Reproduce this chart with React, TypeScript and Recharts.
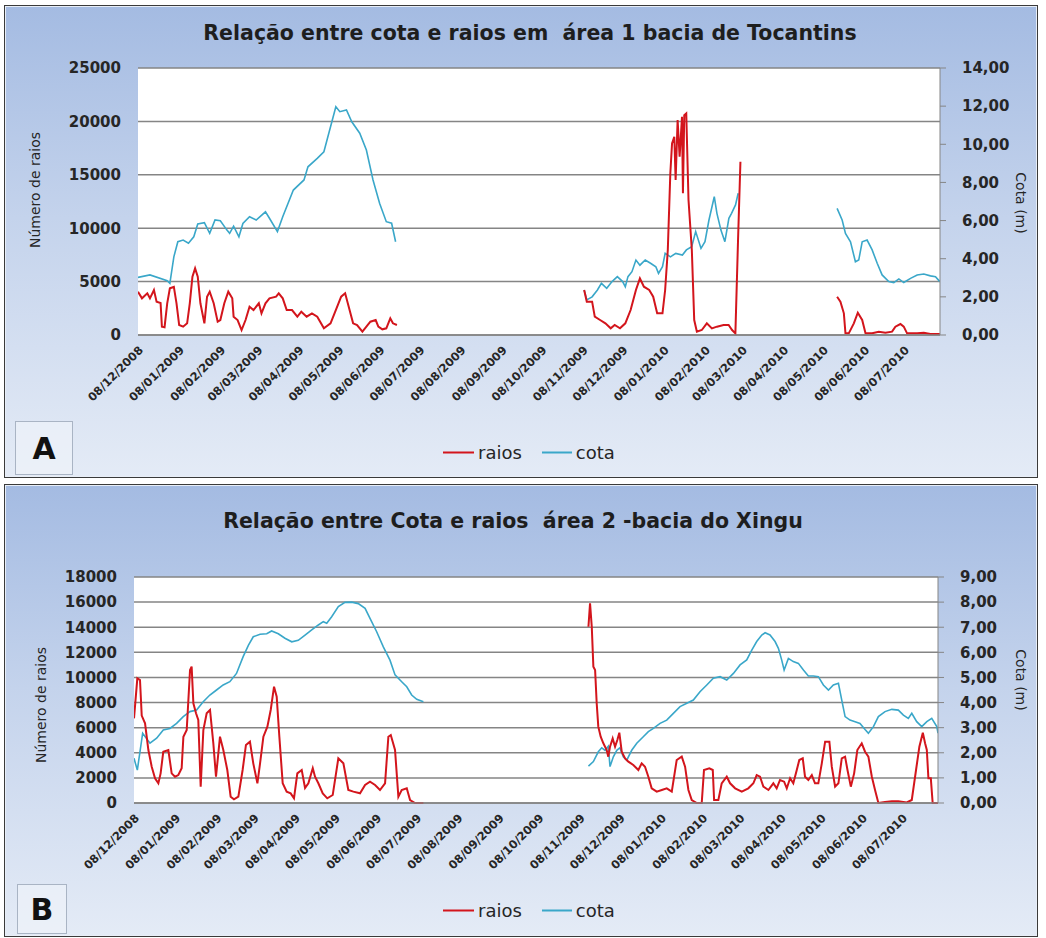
import { LineChart, Line, XAxis, YAxis, CartesianGrid } from 'recharts';

// rótulos mensais do eixo x (dias contados a partir de 08/12/2008)
const rotulosMeses = [
  '08/12/2008', '08/01/2009', '08/02/2009', '08/03/2009', '08/04/2009', '08/05/2009',
  '08/06/2009', '08/07/2009', '08/08/2009', '08/09/2009', '08/10/2009', '08/11/2009',
  '08/12/2009', '08/01/2010', '08/02/2010', '08/03/2010', '08/04/2010', '08/05/2010',
  '08/06/2010', '08/07/2010',
];
const ultimoDia = 604;

// área 1 - Tocantins
const ticksRaiosA = [0, 5000, 10000, 15000, 20000, 25000];
const ticksCotaA = [0, 2, 4, 6, 8, 10, 12, 14];

const diasRaiosA = [
  0, 3, 7, 9, 12, 14, 17, 18, 20, 22, 24, 27, 29, 31, 34, 37, 39, 41, 43, 45, 47, 50, 52, 54, 57, 60,
  62, 65, 68, 71, 72, 75, 78, 81, 84, 87, 91, 93, 96, 99, 104, 106, 109, 112, 116, 120, 123, 127, 131,
  135, 140, 145, 148, 153, 156, 158, 162, 165, 169, 172, 175, 179, 181, 184, 187, 190, 192, 195,
  200,
  336, 338, 342, 344, 348, 352, 356, 359, 363, 367, 371, 375, 378, 381, 385, 388, 391, 395, 397, 399,
  400.9, 402.2, 403.9, 404.9, 406.4, 407.9, 409.7, 410.4, 411.4, 412.9, 414.6, 417.1, 418.9, 420.9,
  424.6, 428.4, 432.2, 436, 441, 444.8, 447.4, 449.9, 451.9, 453.7,
  460,
  526.5, 529, 531.6, 532.8, 535.3, 539.1, 542.1, 545.4, 547.9, 552.9, 557.9, 562.9, 567.9, 570.4,
  574.2, 576.7, 579.2, 586.8, 591.8, 596.8, 603.9,
];
const raiosA = [
  4053, 3435, 3900, 3435, 4212, 3117, 3000, 780, 730, 2970, 4371, 4500, 2970, 936, 780, 1092, 2970,
  5460, 6240, 5460, 2970, 1092, 3588, 4053, 2970, 1248, 1404, 2970, 4053, 3432, 1716, 1404, 468, 1404,
  2652, 2340, 2970, 2028, 2970, 3432, 3588, 3900, 3432, 2340, 2340, 1716, 2184, 1716, 2028, 1716, 624,
  1092, 2028, 3588, 3900, 2970, 1092, 936, 312, 780, 1248, 1404, 780, 530, 624, 1560, 1092, 936,
  null,
  4212, 3120, 3120, 1716, 1404, 1092, 624, 936, 624, 1092, 2340, 4212, 5304, 4524, 4212, 3588, 2028,
  2028, 4212, 7956, 15135, 17943, 18566, 14508, 20124, 16689, 20433, 13263, 20590, 20748, 12636, 7956,
  1404, 312, 468, 1092, 624, 780, 936, 936, 468, 156, 8892, 16221,
  null,
  3588, 3120, 2028, 156, 156, 1092, 2090, 1404, 156, 156, 312, 218, 312, 780, 1030, 780, 156, 156, 218,
  100, 100,
];

const diasCotaA = [
  0, 9, 22, 24, 27, 30, 34, 38, 42, 45, 50, 54, 58, 62, 67, 69, 72, 76, 79, 84, 89, 96, 99, 105, 109,
  117, 125, 128, 135, 140, 145, 149, 152, 157, 161, 167, 172, 177, 182, 187, 191, 194,
  200,
  336, 338, 342, 346, 349, 353, 357, 361, 365, 367, 369, 372, 375, 378, 382, 386, 390, 392, 395, 397,
  401, 405, 410, 413, 417, 420, 424, 427, 430, 434, 436, 439, 442, 445, 447, 450, 452,
  460,
  526.5, 530.3, 532.8, 536.6, 540.3, 542.8, 545.4, 549.1, 552.9, 556.7, 560.4, 565.4, 569.2, 573,
  576.7, 581.8, 586.8, 591.8, 596.8, 600.6, 603.9,
];
const cotaA = [
  3.02, 3.15, 2.85, 2.71, 4.1, 4.89, 4.98, 4.81, 5.15, 5.82, 5.89, 5.33, 6.03, 5.99, 5.5, 5.33, 5.71,
  5.15, 5.85, 6.2, 6.03, 6.46, 6.12, 5.42, 6.2, 7.6, 8.13, 8.82, 9.26, 9.61, 10.92, 11.97, 11.71, 11.8,
  11.18, 10.58, 9.7, 8.13, 6.9, 5.94, 5.86, 4.89,
  null,
  2.36, 1.84, 2.0, 2.36, 2.71, 2.45, 2.8, 3.06, 2.8, 2.53, 3.06, 3.32, 3.93, 3.66, 3.93, 3.76, 3.58,
  3.23, 3.58, 4.28, 4.1, 4.28, 4.19, 4.46, 4.63, 5.42, 4.54, 4.89, 6.03, 7.25, 6.38, 5.5, 4.89, 6.12,
  6.38, 6.82, 7.43,
  null,
  6.64, 6.03, 5.33, 4.89, 3.84, 3.93, 4.89, 4.98, 4.46, 3.76, 3.15, 2.8, 2.75, 2.94, 2.75, 2.97, 3.15,
  3.2, 3.1, 3.06, 2.8,
];

// área 2 - Xingu
const ticksRaiosB = [0, 2000, 4000, 6000, 8000, 10000, 12000, 14000, 16000, 18000];
const ticksCotaB = [0, 1, 2, 3, 4, 5, 6, 7, 8, 9];

const diasRaiosB = [
  0, 2.5, 4.5, 5.8, 8.3, 10.8, 13.3, 15.8, 18.3, 20, 22, 25.8, 28.3, 30.8, 33.3, 35.8, 37.1, 39.6, 42.1,
  43.3, 44.6, 46.6, 48.3, 50.1, 52.1, 54.6, 57.1, 59.6, 61.6, 64.6, 67.1, 70.1, 72.6, 75.1, 78.4, 81.6,
  84.1, 87.1, 89.6, 92.7, 94.7, 97.2, 100.2, 102.7, 105.2, 107.2, 109.2, 111.7, 114.7, 117.7, 120.2,
  122.7, 126, 128.5, 131, 134.3, 136, 138.5, 141.8, 145.2, 149.3, 153.5, 157.3, 161, 164.8, 169.8,
  173.6, 177.3, 181.1, 184.8, 188.6, 191.1, 192.9, 196.1, 198.6, 201.1, 204.9, 207.4, 211.1, 217.4,
  225,
  341.4, 342.6, 343.9, 345.1, 346.4, 347.6, 348.8, 350.6, 352.6, 355.1, 356.3, 357.6, 359.6, 361.4,
  363.1, 364.6, 366.4, 368.9, 371.4, 375.1, 378.9, 381.4, 383.9, 386.4, 388.9, 392.7, 396.5, 400.2,
  404, 407.7, 411.5, 414, 416.5, 419, 422.8, 426.5, 428.2, 432.2, 434.8, 435.8, 439, 441.5, 445.3,
  447.8, 451.6, 456.6, 461.5, 465.3, 467.8, 470.3, 472.8, 476.6, 480.3, 482.8, 485.3, 488.4, 490.4,
  492.9, 495.3, 497.9, 499.8, 502.4, 504.1, 506.6, 509.2, 511.6, 514.1, 516.7, 519.2, 522.4, 524.2,
  526.7, 529.2, 531.7, 534.2, 536, 538.5, 541, 543.4, 546.7, 549.2, 551.7, 554.3, 556.7, 559.2, 564.2,
  569.3, 574.2, 580.5, 584.3, 587.5, 590, 592.6, 594.3, 595.6, 596.8, 598.6, 600, 604,
];
const raiosB = [
  6746, 9930, 9800, 6960, 6348, 4221, 2891, 1967, 1569, 2360, 4086, 4221, 2360, 2095, 2227, 2764, 5281,
  5812, 10593, 10860, 7941, 7145, 6614, 1300, 5812, 7145, 7407, 4755, 2095, 5281, 4221, 2628, 504, 292,
  504, 2628, 4620, 4886, 3159, 1569, 3159, 5281, 6081, 7407, 9265, 8469, 5281, 1569, 903, 770, 372,
  2360, 2628, 1200, 1569, 2764, 2095, 1569, 770, 372, 637, 3557, 3159, 1035, 903, 770, 1436, 1700,
  1436, 1035, 1569, 5281, 5414, 4221, 504, 1035, 1169, 239, 0, 0,
  null,
  14042, 15906, 14042, 10856, 10590, 7941, 6081, 5281, 4755, 4221, 3690, 4486, 5148, 4486, 5015, 5600,
  4086, 3557, 3292, 3026, 2628, 3159, 2893, 2095, 1169, 903, 1035, 1169, 903, 3425, 3690, 2893, 1035,
  239, 0, 0, 2628, 2760, 2628, 239, 239, 1569, 2095, 1569, 1169, 903, 1169, 1569, 2227, 2095, 1300,
  1035, 1569, 1169, 1832, 1700, 1169, 1967, 1569, 2628, 3425, 3557, 2095, 1832, 2227, 1569, 1569, 3159,
  4886, 4886, 2893, 1300, 1569, 3557, 3690, 2628, 1300, 2360, 4221, 4755, 4086, 3690, 2095, 1035, 0,
  80, 130, 130, 50, 239, 2628, 4486, 5600, 4755, 4221, 1967, 1967, 0, 0,
];

const diasCotaB = [
  0, 2.5, 6.5, 12, 17, 22, 27, 32, 37, 42, 47, 52, 57, 62, 67, 72, 77, 82, 86, 89.6, 94.7, 99.7, 103.4,
  108.4, 113.4, 118.5, 123.4, 128.5, 133.5, 138.5, 142.2, 144.8, 148.5, 153.5, 158.5, 163.6, 168.5,
  173.6, 177.3, 182.3, 187.3, 192.3, 196.1, 201.1, 204.9, 208.6, 212.4, 217.4,
  225,
  341.4, 345.1, 348.8, 351.4, 353.9, 356.3, 357.6, 360.1, 362.7, 365, 367.6, 370.2, 373.9, 377.7,
  382.6, 386.4, 390.2, 395.2, 400.2, 405.2, 410.2, 415.3, 420.2, 425.2, 430.3, 435.2, 440.3, 445.3,
  450.3, 455.3, 460.3, 464.1, 467.8, 471.6, 474.1, 477.8, 481.6, 484.1, 486.6, 488.4, 491.6, 495.3,
  499.1, 502.9, 506.6, 510.4, 514.1, 517.9, 521.7, 525.4, 529.2, 531.7, 534.2, 537.9, 541.7, 545.4,
  549.2, 551.7, 555.5, 559.2, 564.2, 569.3, 574.2, 578, 581.7, 584.3, 588, 591.8, 595.6, 599.3, 603.1,
  604,
];
const cotaB = [
  1.78, 1.31, 2.78, 2.38, 2.58, 2.91, 2.97, 3.17, 3.44, 3.64, 3.7, 4.03, 4.3, 4.5, 4.7, 4.83, 5.16, 5.83,
  6.29, 6.62, 6.72, 6.74, 6.85, 6.74, 6.56, 6.42, 6.48, 6.69, 6.89, 7.09, 7.22, 7.16, 7.42, 7.82, 7.99,
  8.0, 7.94, 7.75, 7.35, 6.82, 6.22, 5.69, 5.1, 4.83, 4.63, 4.3, 4.13, 4.03,
  null,
  1.47, 1.65, 2.04, 2.2, 2.1, 2.26, 1.45, 1.84, 2.1, 2.2, 1.84, 1.71, 2.1, 2.38, 2.64, 2.84, 2.97, 3.17,
  3.3, 3.57, 3.84, 3.97, 4.1, 4.43, 4.7, 4.97, 5.03, 4.9, 5.16, 5.5, 5.7, 6.09, 6.43, 6.69, 6.78, 6.69,
  6.43, 6.16, 5.69, 5.3, 5.76, 5.63, 5.56, 5.3, 5.06, 5.06, 5.03, 4.7, 4.5, 4.7, 4.77, 4.1, 3.44, 3.3,
  3.24, 3.17, 2.93, 2.78, 3.04, 3.44, 3.64, 3.73, 3.7, 3.5, 3.37, 3.57, 3.24, 3.04, 3.24, 3.37, 3.04,
  2.78,
];

const FONTE = '"DejaVu Sans", sans-serif';
const COR_RAIOS = '#d3151c';
const COR_COTA = '#3aa7c9';
const COR_GRADE = '#858585';
const COR_TEXTO = '#262626';

const inicio = Date.UTC(2008, 11, 8);
function diaDe(rotulo: string) {
  const [d, m, a] = rotulo.split('/').map(Number);
  return Math.round((Date.UTC(a, m - 1, d) - inicio) / 86400000);
}
const ticksMeses = rotulosMeses.map(diaDe);
const rotuloPorDia: Record<number, string> = {};
rotulosMeses.forEach((r, i) => (rotuloPorDia[ticksMeses[i]] = r));

function serie(dias: number[], valores: (number | null)[]) {
  return dias.map((d, i) => ({ d, v: valores[i] }));
}

function XTick({ x, y, payload }: { x?: number; y?: number; payload?: { value: number } }) {
  return (
    <text
      transform={`translate(${(x ?? 0) + 3},${(y ?? 0) + 11}) rotate(-45)`}
      textAnchor="end"
      dy="0.35em"
      fontSize={11.5}
      fontWeight="bold"
      fontFamily={FONTE}
      fill={COR_TEXTO}
    >
      {rotuloPorDia[payload?.value ?? 0]}
    </text>
  );
}

const virgula = (v: number) => v.toFixed(2).replace('.', ',');

interface PainelProps {
  top: number;
  height: number;
  chartHeight: number;
  plotTop: number;
  plotBottom: number;
  plotLeft: number;
  plotRight: number;
  titulo: string;
  tituloX: number;
  tituloY: number;
  letra: string;
  caixa: { left: number; top: number; width: number; height: number };
  legendaY: number;
  eixoEsqY: number;
  eixoEsqX: number;
  eixoDirY: number;
  ticksRaios: number[];
  ticksCota: number[];
  raios: { d: number; v: number | null }[];
  cota: { d: number; v: number | null }[];
}

function Painel(p: PainelProps) {
  const W = 1046;
  const yw = 60;
  const xh = 60;
  const maxR = p.ticksRaios[p.ticksRaios.length - 1];
  const maxC = p.ticksCota[p.ticksCota.length - 1];
  return (
    <div style={{ position: 'absolute', left: 0, top: p.top, width: W, height: p.height }}>
      <div
        style={{
          position: 'absolute',
          left: 4,
          top: 0,
          width: 1032,
          height: p.height - 2,
          border: '1px solid #3a3a3a',
          boxShadow: 'inset 0 0 0 1px #e8eef7',
          background: 'linear-gradient(to bottom, #a4bbe2 0%, #c4d3ec 45%, #e4ebf6 100%)',
        }}
      />
      <div
        style={{
          position: 'absolute',
          left: p.tituloX,
          top: p.tituloY,
          transform: 'translate(-50%, -50%)',
          whiteSpace: 'pre',
          fontFamily: FONTE,
          fontWeight: 'bold',
          fontSize: 20.5,
          color: '#1e1e1e',
        }}
      >
        {p.titulo}
      </div>
      <div
        style={{
          position: 'absolute',
          left: p.eixoEsqX,
          top: p.eixoEsqY,
          transform: 'translate(-50%, -50%) rotate(-90deg)',
          whiteSpace: 'nowrap',
          fontFamily: FONTE,
          fontSize: 14,
          color: COR_TEXTO,
        }}
      >
        Número de raios
      </div>
      <div
        style={{
          position: 'absolute',
          left: 1021,
          top: p.eixoDirY,
          transform: 'translate(-50%, -50%) rotate(90deg)',
          whiteSpace: 'nowrap',
          fontFamily: FONTE,
          fontSize: 14,
          color: COR_TEXTO,
        }}
      >
        Cota (m)
      </div>
      <div style={{ position: 'absolute', left: 0, top: 0 }}>
        <LineChart
          width={W}
          height={p.chartHeight}
          margin={{
            top: p.plotTop,
            bottom: p.chartHeight - p.plotBottom - xh,
            left: p.plotLeft - yw,
            right: W - p.plotRight - yw,
          }}
        >
          <CartesianGrid
            xAxisId="x"
            yAxisId="raios"
            vertical={false}
            stroke={COR_GRADE}
            strokeWidth={1.5}
            fill="#ffffff"
          />
          <XAxis
            xAxisId="x"
            dataKey="d"
            type="number"
            domain={[0, ultimoDia]}
            ticks={ticksMeses}
            interval={0}
            allowDataOverflow
            height={xh}
            tickSize={0}
            tickLine={false}
            axisLine={{ stroke: COR_GRADE, strokeWidth: 1.5 }}
            tick={<XTick />}
          />
          <YAxis
            yAxisId="raios"
            orientation="left"
            width={yw}
            domain={[0, maxR]}
            ticks={p.ticksRaios}
            interval={0}
            axisLine={false}
            tickLine={false}
            tickSize={0}
            tickMargin={17}
            tick={{ fill: COR_TEXTO, fontSize: 15, fontWeight: 'bold', fontFamily: FONTE }}
          />
          <YAxis
            yAxisId="cota"
            orientation="right"
            width={yw}
            domain={[0, maxC]}
            ticks={p.ticksCota}
            interval={0}
            axisLine={{ stroke: COR_GRADE, strokeWidth: 1 }}
            tickLine={{ stroke: COR_GRADE }}
            tickSize={6}
            tickMargin={16}
            tickFormatter={virgula}
            tick={{ fill: COR_TEXTO, fontSize: 15, fontWeight: 'bold', fontFamily: FONTE }}
          />
          <Line
            xAxisId="x"
            yAxisId="cota"
            data={p.cota}
            dataKey="v"
            type="linear"
            stroke={COR_COTA}
            strokeWidth={1.6}
            dot={false}
            connectNulls={false}
            isAnimationActive={false}
          />
          <Line
            xAxisId="x"
            yAxisId="raios"
            data={p.raios}
            dataKey="v"
            type="linear"
            stroke={COR_RAIOS}
            strokeWidth={2}
            dot={false}
            connectNulls={false}
            isAnimationActive={false}
          />
        </LineChart>
      </div>
      <div
        style={{
          position: 'absolute',
          left: p.caixa.left,
          top: p.caixa.top,
          width: p.caixa.width,
          height: p.caixa.height,
          border: '1px solid #a9b4c4',
          background: 'rgba(238, 242, 249, 0.7)',
          fontFamily: FONTE,
          fontWeight: 'bold',
          fontSize: 30,
          color: '#111',
          display: 'flex',
          alignItems: 'center',
          justifyContent: 'center',
        }}
      >
        {p.letra}
      </div>
      <div
        style={{
          position: 'absolute',
          left: 443,
          top: p.legendaY,
          transform: 'translateY(-50%)',
          display: 'flex',
          alignItems: 'center',
          fontFamily: FONTE,
          fontSize: 18,
          color: COR_TEXTO,
        }}
      >
        <span style={{ display: 'inline-block', width: 31, height: 2, background: COR_RAIOS }} />
        <span style={{ marginLeft: 4, marginRight: 20 }}>raios</span>
        <span style={{ display: 'inline-block', width: 30, height: 2, background: COR_COTA }} />
        <span style={{ marginLeft: 4 }}>cota</span>
      </div>
    </div>
  );
}

export default function App() {
  return (
    <div style={{ position: 'absolute', left: 0, top: 0, width: 1046, height: 938, background: '#ffffff', overflow: 'hidden' }}>
      <Painel
        top={5}
        height={473}
        chartHeight={470}
        plotTop={63}
        plotBottom={330}
        plotLeft={138}
        plotRight={940}
        titulo="Relação entre cota e raios em  área 1 bacia de Tocantins"
        tituloX={530}
        tituloY={28}
        letra="A"
        caixa={{ left: 15, top: 416, width: 56, height: 52 }}
        legendaY={447}
        eixoEsqX={35}
        eixoEsqY={185}
        eixoDirY={198}
        ticksRaios={ticksRaiosA}
        ticksCota={ticksCotaA}
        raios={serie(diasRaiosA, raiosA)}
        cota={serie(diasCotaA, cotaA)}
      />
      <Painel
        top={484}
        height={453}
        chartHeight={450}
        plotTop={93}
        plotBottom={319}
        plotLeft={134}
        plotRight={938}
        titulo="Relação entre Cota e raios  área 2 -bacia do Xingu"
        tituloX={513}
        tituloY={37}
        letra="B"
        caixa={{ left: 17, top: 400, width: 48, height: 48 }}
        legendaY={426}
        eixoEsqX={41}
        eixoEsqY={221}
        eixoDirY={196}
        ticksRaios={ticksRaiosB}
        ticksCota={ticksCotaB}
        raios={serie(diasRaiosB, raiosB)}
        cota={serie(diasCotaB, cotaB)}
      />
    </div>
  );
}
